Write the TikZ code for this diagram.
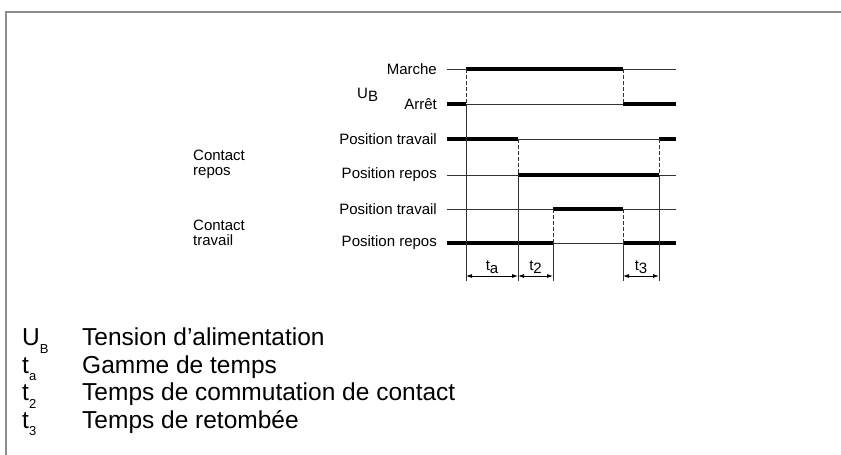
\documentclass[tikz,border=0pt]{standalone}
\usepackage{fontspec}
\setmainfont{Liberation Sans}
\usetikzlibrary{calc,positioning,arrows.meta}
\newcommand{\dsub}[1]{\raisebox{-3pt}{#1}}
\newcommand{\lsub}[1]{\raisebox{-7.5pt}{\fontsize{13}{13}\selectfont #1}}
\tikzset{
  lbl/.style={anchor=east,inner sep=0pt,font=\fontsize{15}{17}\selectfont},
  grp/.style={anchor=west,align=left,inner sep=0pt,font=\fontsize{15}{15}\selectfont},
  leg/.style={anchor=base west,inner sep=0pt,font=\fontsize{24.5}{27}\selectfont},
  level/.style={draw=black!80,line width=0.8pt},
  sig/.style={line width=4pt},
  edge/.style={draw=black!80,line width=0.8pt,dash pattern=on 4pt off 2pt},
  dim/.style={line width=0.8pt,{Latex[length=6pt,width=4pt]}-{Latex[length=6pt,width=4pt]}},
  dimlbl/.style={above=2pt,inner sep=0pt,font=\fontsize{15}{17}\selectfont},
  frame/.style={draw=black!45,line width=2pt}
}
\begin{document}
\begin{tikzpicture}[x=1pt,y=-1pt]
        \useasboundingbox (0,0) rectangle (841,455);
        \draw[frame] (841,12) -- (6,12) -- (6,455);
        % instants
        \foreach \n/\x in {L/447,t1/466,t2/518,t3/553,t4/623,t5/659,R/676}
          \coordinate (\n) at (\x,0);
        % niveaux
        \foreach \n/\y/\txt in {m/69/Marche,a/104/Arrêt,rt/139/Position travail,
            rr/175/Position repos,tt/209/Position travail,tr/243/Position repos}{
          \coordinate (\n) at (0,\y);
          \node[lbl] (lbl-\n) at (437,\y) {\txt};
          \draw[level] (L |- \n) -- (R |- \n);
        }
        \coordinate (d) at (0,276);
        \coordinate (bot) at (0,281);
        % signaux
        \draw[sig] (L |- a) -- (t1 |- a);
        \draw[sig] (t1 |- m) -- (t4 |- m);
        \draw[sig] (t4 |- a) -- (R |- a);
        \draw[sig] (L |- rt) -- (t2 |- rt);
        \draw[sig] (t2 |- rr) -- (t5 |- rr);
        \draw[sig] (t5 |- rt) -- (R |- rt);
        \draw[sig] (L |- tr) -- (t3 |- tr);
        \draw[sig] (t3 |- tt) -- (t4 |- tt);
        \draw[sig] (t4 |- tr) -- (R |- tr);
        % fronts
        \draw[edge] (t1 |- m) -- (t1 |- a);
        \draw[edge] (t4 |- m) -- (t4 |- a);
        \draw[edge] (t2 |- rt) -- (t2 |- rr);
        \draw[edge] (t5 |- rt) -- (t5 |- rr);
        \draw[edge] (t3 |- tt) -- (t3 |- tr);
        \draw[edge] (t4 |- tt) -- (t4 |- tr);
        \draw[level] (t1 |- a) -- (t1 |- bot);
        \draw[level] (t2 |- rr) -- (t2 |- bot);
        \draw[level] (t3 |- tr) -- (t3 |- bot);
        \draw[level] (t4 |- tr) -- (t4 |- bot);
        \draw[level] (t5 |- rr) -- (t5 |- bot);
        % cotes
        \draw[dim] (t1 |- d) -- node[dimlbl] (ta) {t\dsub{a}} (t2 |- d);
        \draw[dim] (t2 |- d) -- node[dimlbl] (tb) {t\dsub{2}} (t3 |- d);
        \draw[dim] (t4 |- d) -- node[dimlbl] (tc) {t\dsub{3}} (t5 |- d);
        \node[lbl,anchor=base west] (ub) at (357,98.5) {U\dsub{B}};
        \node[grp] (cr) at (193,164.5) {Contact\\repos};
        \node[grp] (ct) at (193,233) {Contact\\travail};
        % legende
        \foreach \i/\s/\txt in {0/U\lsub{B}/Tension d’alimentation,1/t\lsub{a}/Gamme de temps,
            2/t\lsub{2}/Temps de commutation de contact,3/t\lsub{3}/Temps de retombée}{
          \node[leg] (sym-\i) at (22,345.5+27.5*\i) {\s};
          \node[leg] (txt-\i) at (82,345.5+27.5*\i) {\txt};
        }
\end{tikzpicture}
\end{document}
